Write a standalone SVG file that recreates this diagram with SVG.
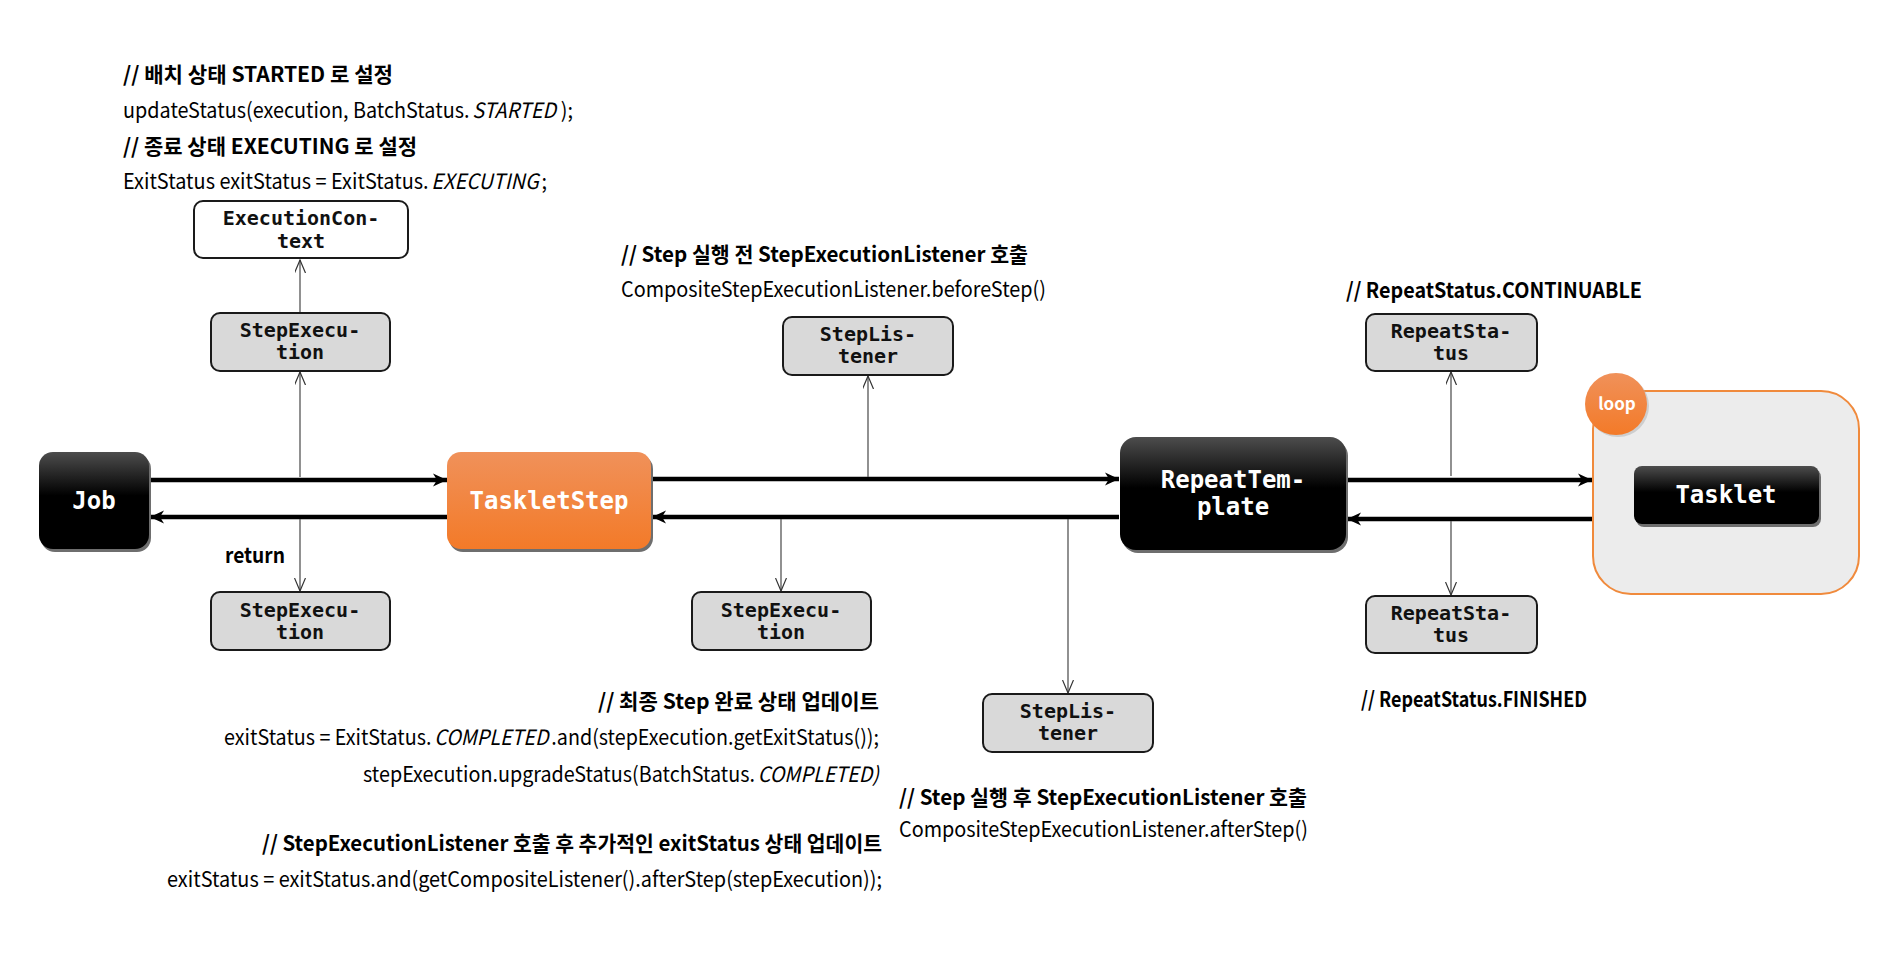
<svg xmlns="http://www.w3.org/2000/svg" width="1895" height="978" viewBox="0 0 1895 978">
<defs>
  <linearGradient id="gBlack" x1="0" y1="0" x2="0" y2="1">
    <stop offset="0" stop-color="#4d4d4d"/>
    <stop offset="0.45" stop-color="#000"/>
    <stop offset="1" stop-color="#000"/>
  </linearGradient>
  <linearGradient id="gOrange" x1="0" y1="0" x2="0" y2="1">
    <stop offset="0" stop-color="#f0915a"/>
    <stop offset="1" stop-color="#f37a28"/>
  </linearGradient>
  <marker id="thick" markerUnits="userSpaceOnUse" markerWidth="16" markerHeight="16" refX="14" refY="7" orient="auto">
    <path d="M0,0.5 L14,7 L0,13.5 L4,7 z" fill="#000"/>
  </marker>
  <marker id="open" markerUnits="userSpaceOnUse" markerWidth="14" markerHeight="12" refX="13" refY="5.5" orient="auto">
    <path d="M0,0 L13,5.5 L0,11" fill="none" stroke="#333" stroke-width="1.2"/>
  </marker>
  <style>
    .note { font-family: "Noto Sans CJK KR", "Noto Sans", sans-serif; font-size: 21px; fill: #000; }
    .b { font-weight: bold; }
    .it { font-style: italic; }
    .gbox { fill: #d9d9d9; stroke: #1a1a1a; stroke-width: 2; }
    .wbox { fill: #fff; stroke: #1a1a1a; stroke-width: 2; }
    .lbl { font-family: "DejaVu Sans Mono", monospace; font-weight: bold; font-size: 20px; fill: #111; text-anchor: middle; }
    .big { font-family: "DejaVu Sans Mono", monospace; font-weight: bold; font-size: 24px; fill: #fff; text-anchor: middle; }
    .shadow { fill: #6e6e6e; }
    .thick { stroke: #000; stroke-width: 4.5; fill: none; marker-end: url(#thick); }
    .thin { stroke: #555; stroke-width: 1.3; fill: none; marker-end: url(#open); }
  </style>
</defs>
<rect width="1895" height="978" fill="#fff"/>

<!-- notes -->
<g id="notes">
  <text class="note b" x="123" y="82" textLength="270" lengthAdjust="spacingAndGlyphs">// 배치 상태  STARTED  로 설정</text>
  <text class="note" x="123" y="118" textLength="450" lengthAdjust="spacingAndGlyphs">updateStatus(execution, BatchStatus.<tspan class="it" dx="3">STARTED</tspan><tspan dx="5">);</tspan></text>
  <text class="note b" x="123" y="154" textLength="294" lengthAdjust="spacingAndGlyphs">// 종료 상태  EXECUTING  로 설정</text>
  <text class="note" x="123" y="189" textLength="424" lengthAdjust="spacingAndGlyphs">ExitStatus exitStatus = ExitStatus.<tspan class="it" dx="3">EXECUTING</tspan><tspan dx="3">;</tspan></text>

  <text class="note b" x="621" y="262" textLength="407" lengthAdjust="spacingAndGlyphs">// Step  실행 전  StepExecutionListener  호출</text>
  <text class="note" x="621" y="297" textLength="425" lengthAdjust="spacingAndGlyphs">CompositeStepExecutionListener.beforeStep()</text>

  <text class="note b" x="1346" y="298" textLength="296" lengthAdjust="spacingAndGlyphs">// RepeatStatus.CONTINUABLE</text>
  <text class="note b" x="1361" y="707" textLength="226" lengthAdjust="spacingAndGlyphs">// RepeatStatus.FINISHED</text>

  <text class="note b" x="598" y="709" textLength="281" lengthAdjust="spacingAndGlyphs">// 최종  Step  완료 상태 업데이트</text>
  <text class="note" x="224" y="745" textLength="655" lengthAdjust="spacingAndGlyphs">exitStatus = ExitStatus.<tspan class="it" dx="3">COMPLETED</tspan><tspan dx="3">.and(stepExecution.getExitStatus());</tspan></text>
  <text class="note" x="363" y="782" textLength="516" lengthAdjust="spacingAndGlyphs">stepExecution.upgradeStatus(BatchStatus.<tspan class="it" dx="3">COMPLETED)</tspan></text>
  <text class="note b" x="262" y="851" textLength="620" lengthAdjust="spacingAndGlyphs">// StepExecutionListener  호출 후 추가적인  exitStatus  상태 업데이트</text>
  <text class="note" x="167" y="887" textLength="715" lengthAdjust="spacingAndGlyphs">exitStatus = exitStatus.and(getCompositeListener().afterStep(stepExecution));</text>

  <text class="note b" x="899" y="805" textLength="408" lengthAdjust="spacingAndGlyphs">// Step  실행 후  StepExecutionListener  호출</text>
  <text class="note" x="899" y="837" textLength="409" lengthAdjust="spacingAndGlyphs">CompositeStepExecutionListener.afterStep()</text>

  <text class="note b" x="225" y="563" textLength="60" lengthAdjust="spacingAndGlyphs">return</text>
</g>

<!-- loop container -->
<g id="loop">
  <rect x="1593" y="391" width="266" height="203" rx="38" fill="#ececec" stroke="#f08a3c" stroke-width="2"/>
  <circle cx="1618" cy="406" r="31" fill="#b0b0b0" opacity="0.5"/>
  <circle cx="1616" cy="404" r="31" fill="url(#gOrange)"/>
  <text x="1617" y="410" font-family="Noto Sans CJK KR, Noto Sans, sans-serif" font-size="17" font-weight="bold" fill="#fff" text-anchor="middle">loop</text>
</g>

<!-- connectors -->
<g id="connectors">
  <path class="thick" d="M150,480 H447"/>
  <path class="thick" d="M447,517 H150"/>
  <path class="thick" d="M652,479 H1119"/>
  <path class="thick" d="M1119,517 H652"/>
  <path class="thick" d="M1347,480 H1592"/>
  <path class="thick" d="M1592,519 H1347"/>
  <path class="thin" d="M300,477 V372"/>
  <path class="thin" d="M300,312 V260"/>
  <path class="thin" d="M300,519 V591"/>
  <path class="thin" d="M868,477 V376"/>
  <path class="thin" d="M781,519 V591"/>
  <path class="thin" d="M1068,519 V693"/>
  <path class="thin" d="M1451,476 V372"/>
  <path class="thin" d="M1451,521 V595"/>
</g>

<g id="job">
  <rect class="shadow" x="41" y="455" width="110" height="97" rx="14"/>
  <rect x="39" y="452" width="110" height="97" rx="14" fill="url(#gBlack)"/>
  <text class="big" x="94" y="509">Job</text>
</g>

<g id="taskletstep">
  <rect class="shadow" x="449" y="455" width="204" height="97" rx="14"/>
  <rect x="447" y="452" width="204" height="97" rx="14" fill="url(#gOrange)"/>
  <text class="big" x="549" y="509">TaskletStep</text>
</g>

<g id="repeattemplate">
  <rect class="shadow" x="1122" y="440" width="226" height="113" rx="16"/>
  <rect x="1120" y="437" width="226" height="113" rx="16" fill="url(#gBlack)"/>
  <text class="big" x="1233" y="488">RepeatTem-</text>
  <text class="big" x="1233" y="515">plate</text>
</g>

<g id="tasklet">
  <rect class="shadow" x="1636" y="469" width="185" height="58" rx="8"/>
  <rect x="1634" y="466" width="185" height="58" rx="8" fill="url(#gBlack)"/>
  <text class="big" x="1726" y="503">Tasklet</text>
</g>

<g id="executioncontext">
  <rect class="wbox" x="194" y="201" width="214" height="57" rx="9"/>
  <text class="lbl" x="301" y="225">ExecutionCon-</text>
  <text class="lbl" x="301" y="248">text</text>
</g>

<g id="stepexecution-top">
  <rect class="gbox" x="211" y="313" width="179" height="58" rx="9"/>
  <text class="lbl" x="300" y="337">StepExecu-</text>
  <text class="lbl" x="300" y="359">tion</text>
</g>

<g id="stepexecution-bottom">
  <rect class="gbox" x="211" y="592" width="179" height="58" rx="9"/>
  <text class="lbl" x="300" y="617">StepExecu-</text>
  <text class="lbl" x="300" y="639">tion</text>
</g>

<g id="steplistener-top">
  <rect class="gbox" x="783" y="317" width="170" height="58" rx="9"/>
  <text class="lbl" x="868" y="341">StepLis-</text>
  <text class="lbl" x="868" y="363">tener</text>
</g>

<g id="stepexecution-mid">
  <rect class="gbox" x="692" y="592" width="179" height="58" rx="9"/>
  <text class="lbl" x="781" y="617">StepExecu-</text>
  <text class="lbl" x="781" y="639">tion</text>
</g>

<g id="steplistener-bottom">
  <rect class="gbox" x="983" y="694" width="170" height="58" rx="9"/>
  <text class="lbl" x="1068" y="718">StepLis-</text>
  <text class="lbl" x="1068" y="740">tener</text>
</g>

<g id="repeatstatus-top">
  <rect class="gbox" x="1366" y="314" width="171" height="57" rx="9"/>
  <text class="lbl" x="1451" y="338">RepeatSta-</text>
  <text class="lbl" x="1451" y="360">tus</text>
</g>

<g id="repeatstatus-bottom">
  <rect class="gbox" x="1366" y="596" width="171" height="57" rx="9"/>
  <text class="lbl" x="1451" y="620">RepeatSta-</text>
  <text class="lbl" x="1451" y="642">tus</text>
</g>
</svg>
